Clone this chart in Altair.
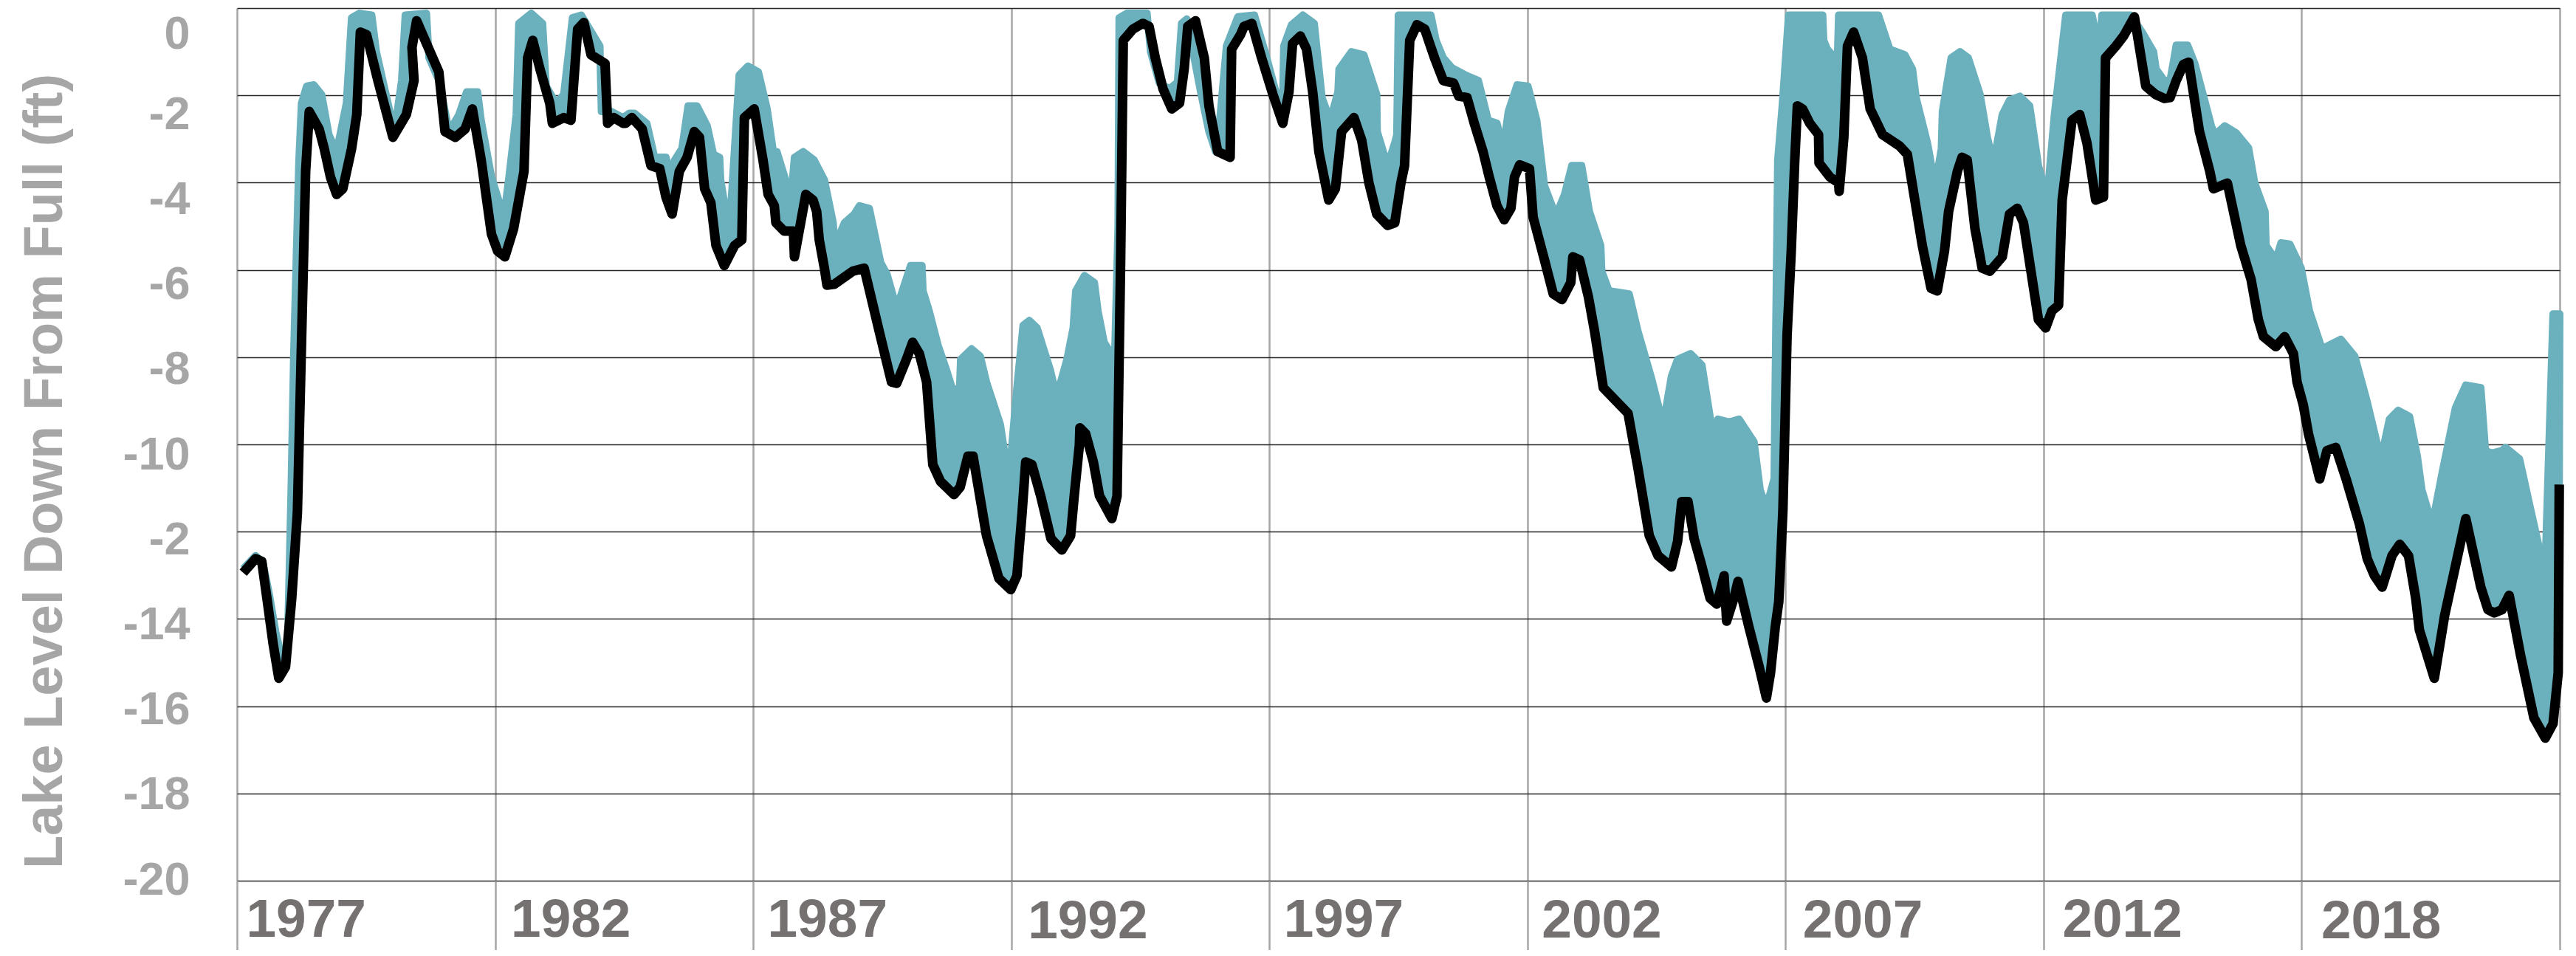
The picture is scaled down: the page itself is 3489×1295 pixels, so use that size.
import altair as alt
import pandas as pd

# ---- teal series (upper edge of band): year, feet below full ----
UP_YEAR = [1977.12, 1977.36, 1977.50, 1977.62, 1977.75, 1977.86, 1977.98, 1978.05, 1978.10, 1978.20,
           1978.25, 1978.35, 1978.49, 1978.64, 1978.78, 1978.93, 1979.12, 1979.22, 1979.37, 1979.61,
           1979.70, 1979.95, 1980.05, 1980.19, 1980.26, 1980.67, 1980.72, 1980.91, 1981.11, 1981.30,
           1981.45, 1981.66, 1981.73, 1981.93, 1982.17, 1982.27, 1982.41, 1982.46, 1982.70, 1982.92,
           1982.99, 1983.18, 1983.33, 1983.50, 1983.67, 1984.03, 1984.06, 1984.25, 1984.48, 1984.60,
           1984.70, 1984.94, 1985.09, 1985.31, 1985.40, 1985.48, 1985.62, 1985.74, 1985.91, 1986.11,
           1986.23, 1986.35, 1986.37, 1986.49, 1986.56, 1986.73, 1986.90, 1987.10, 1987.27, 1987.39,
           1987.46, 1987.63, 1987.75, 1987.80, 1987.97, 1988.18, 1988.38, 1988.55, 1988.57, 1988.64,
           1988.77, 1988.96, 1989.06, 1989.25, 1989.47, 1989.59, 1989.78, 1990.05, 1990.27, 1990.29,
           1990.41, 1990.58, 1990.75, 1990.87, 1991.00, 1991.02, 1991.23, 1991.40, 1991.52, 1991.79,
           1991.89, 1991.99, 1992.11, 1992.23, 1992.35, 1992.50, 1992.76, 1992.88, 1993.08, 1993.20,
           1993.25, 1993.42, 1993.61, 1993.68, 1993.80, 1993.90, 1994.00, 1994.07, 1994.09, 1994.24,
           1994.63, 1994.70, 1994.87, 1995.06, 1995.22, 1995.30, 1995.40, 1995.50, 1995.67, 1995.83,
           1995.96, 1996.05, 1996.17, 1996.39, 1996.71, 1996.95, 1997.14, 1997.26, 1997.28, 1997.43,
           1997.65, 1997.87, 1998.02, 1998.18, 1998.33, 1998.35, 1998.59, 1998.83, 1999.08, 1999.09,
           1999.29, 1999.43, 1999.47, 1999.50, 2000.13, 2000.23, 2000.37, 2000.54, 2000.83, 2001.05,
           2001.24, 2001.41, 2001.53, 2001.63, 2001.80, 2002.01, 2002.18, 2002.33, 2002.55, 2002.72,
           2002.86, 2003.05, 2003.20, 2003.42, 2003.44, 2003.58, 2003.97, 2004.14, 2004.41, 2004.63,
           2004.79, 2004.91, 2005.16, 2005.38, 2005.59, 2005.67, 2005.69, 2005.91, 2006.10, 2006.39,
           2006.51, 2006.63, 2006.78, 2006.85, 2006.94, 2007.06, 2007.72, 2007.74, 2007.81, 2007.96,
           2008.01, 2008.03, 2008.80, 2009.02, 2009.31, 2009.46, 2009.53, 2009.75, 2009.90, 2010.02,
           2010.04, 2010.21, 2010.38, 2010.54, 2010.77, 2010.91, 2011.03, 2011.20, 2011.34, 2011.54,
           2011.73, 2011.90, 2012.07, 2012.21, 2012.43, 2012.94, 2013.08, 2013.13, 2013.69, 2013.91,
           2014.13, 2014.18, 2014.34, 2014.45, 2014.52, 2014.57, 2014.79, 2014.93, 2015.12, 2015.25,
           2015.32, 2015.51, 2015.73, 2015.97, 2016.09, 2016.29, 2016.31, 2016.50, 2016.60, 2016.77,
           2016.99, 2017.15, 2017.37, 2017.42, 2017.64, 2017.76, 2018.03, 2018.27, 2018.48, 2018.56,
           2018.70, 2018.87, 2019.09, 2019.24, 2019.33, 2019.53, 2019.72, 2019.98, 2020.18, 2020.47,
           2020.56, 2020.68, 2020.88, 2020.95, 2021.22, 2021.44, 2021.65, 2021.72, 2021.87, 2022.00]
UP_VAL = [-12.85, -12.55, -12.70, -13.40, -14.30, -14.85, -14.60, -11.00, -7.90, -3.50,
          -2.18, -1.79, -1.76, -1.98, -2.90, -3.29, -2.18, -0.22, -0.12, -0.16,
          -1.00, -2.31, -2.83, -1.66, -0.16, -0.12, -1.14, -1.66, -2.83, -2.44,
          -1.92, -1.92, -2.57, -3.87, -4.79, -3.87, -2.44, -0.35, -0.12, -0.35,
          -1.79, -2.18, -1.98, -0.22, -0.16, -0.87, -2.37, -2.37, -2.51, -2.41,
          -2.41, -2.64, -3.42, -3.42, -3.81, -3.48, -3.22, -2.24, -2.24, -2.70,
          -3.35, -3.42, -3.94, -4.79, -4.72, -1.53, -1.33, -1.46, -2.31, -3.29,
          -3.29, -3.94, -4.14, -3.42, -3.29, -3.48, -3.94, -4.92, -5.31, -5.28,
          -4.92, -4.72, -4.53, -4.59, -5.83, -6.09, -6.88, -5.90, -5.90, -6.48,
          -6.94, -7.72, -8.31, -8.77, -8.70, -8.05, -7.81, -7.98, -8.57, -9.55,
          -10.33, -10.33, -8.70, -7.27, -7.16, -7.33, -8.31, -8.90, -8.05, -7.33,
          -6.48, -6.13, -6.29, -6.94, -7.66, -7.85, -8.18, -5.00, -0.22, -0.12,
          -0.12, -1.00, -1.72, -1.85, -1.70, -0.35, -0.25, -0.87, -1.92, -2.83,
          -3.29, -2.44, -0.87, -0.20, -0.16, -1.14, -1.98, -2.18, -0.87, -0.38,
          -0.16, -0.35, -2.05, -2.57, -1.92, -1.40, -1.00, -1.07, -1.98, -2.83,
          -3.61, -3.09, -2.90, -0.16, -0.16, -0.74, -1.14, -1.37, -1.55, -1.66,
          -2.57, -2.64, -3.22, -2.37, -1.76, -1.79, -2.57, -4.07, -4.76, -4.27,
          -3.61, -3.61, -4.66, -5.44, -6.03, -6.48, -6.55, -7.40, -8.51, -9.55,
          -8.44, -8.05, -7.92, -8.18, -9.75, -9.88, -9.42, -9.49, -9.42, -9.94,
          -11.05, -11.44, -10.79, -3.48, -2.20, -0.16, -0.16, -0.74, -0.94, -1.14,
          -1.00, -0.16, -0.16, -0.94, -1.07, -1.40, -2.05, -3.09, -4.07, -3.22,
          -2.37, -1.14, -1.00, -1.14, -1.98, -2.96, -3.55, -2.44, -2.11, -2.02,
          -2.24, -3.61, -4.33, -2.44, -0.16, -0.16, -1.00, -0.16, -0.16, -0.55,
          -1.00, -1.40, -1.66, -1.66, -1.20, -0.85, -0.85, -1.27, -2.11, -2.70,
          -2.90, -2.70, -2.86, -3.20, -4.01, -4.66, -5.44, -5.77, -5.38, -5.41,
          -5.96, -6.94, -7.72, -7.79, -7.66, -7.59, -7.98, -9.03, -10.07, -10.20,
          -9.42, -9.22, -9.36, -10.27, -11.05, -11.83, -10.66, -9.16, -8.64, -8.70,
          -10.14, -10.20, -10.14, -10.07, -10.33, -11.51, -12.62, -12.75, -7.01, -7.01]

# ---- black series: year, feet below full ----
LO_YEAR = [1977.12, 1977.36, 1977.48, 1977.58, 1977.70, 1977.81, 1977.94, 1978.06, 1978.17, 1978.25,
           1978.33, 1978.40, 1978.59, 1978.69, 1978.81, 1978.93, 1979.05, 1979.22, 1979.32, 1979.39,
           1979.51, 1979.73, 1980.02, 1980.28, 1980.43, 1980.39, 1980.48, 1980.67, 1980.91, 1981.03,
           1981.23, 1981.42, 1981.56, 1981.73, 1981.93, 1982.05, 1982.19, 1982.36, 1982.56, 1982.63,
           1982.73, 1982.87, 1983.06, 1983.11, 1983.33, 1983.47, 1983.60, 1983.72, 1983.86, 1984.13,
           1984.18, 1984.30, 1984.48, 1984.53, 1984.65, 1984.85, 1985.02, 1985.19, 1985.31, 1985.43,
           1985.57, 1985.72, 1985.86, 1985.96, 1986.06, 1986.18, 1986.28, 1986.44, 1986.64, 1986.78,
           1986.83, 1987.02, 1987.19, 1987.29, 1987.41, 1987.44, 1987.60, 1987.78, 1987.80, 1988.02,
           1988.16, 1988.23, 1988.28, 1988.38, 1988.43, 1988.57, 1988.93, 1989.15, 1989.44, 1989.68,
           1989.78, 1989.97, 1990.09, 1990.22, 1990.36, 1990.48, 1990.63, 1990.89, 1991.01, 1991.16,
           1991.26, 1991.52, 1991.76, 1991.99, 1992.11, 1992.21, 1992.28, 1992.40, 1992.57, 1992.77,
           1992.98, 1993.15, 1993.22, 1993.32, 1993.33, 1993.44, 1993.59, 1993.71, 1993.95, 1994.05,
           1994.12, 1994.17, 1994.36, 1994.55, 1994.67, 1994.79, 1994.94, 1995.11, 1995.26, 1995.35,
           1995.42, 1995.57, 1995.74, 1995.83, 1996.00, 1996.24, 1996.27, 1996.44, 1996.51, 1996.66,
           1996.85, 1997.07, 1997.26, 1997.38, 1997.45, 1997.60, 1997.72, 1997.84, 1997.96, 1998.15,
           1998.28, 1998.40, 1998.64, 1998.79, 1998.93, 1999.08, 1999.29, 1999.43, 1999.55, 1999.62,
           1999.72, 1999.86, 2000.01, 2000.20, 2000.37, 2000.57, 2000.67, 2000.83, 2000.97, 2001.14,
           2001.26, 2001.41, 2001.55, 2001.68, 2001.75, 2001.85, 2002.04, 2002.11, 2002.33, 2002.50,
           2002.67, 2002.84, 2002.88, 2003.01, 2003.18, 2003.30, 2003.47, 2003.95, 2004.14, 2004.36,
           2004.53, 2004.79, 2004.91, 2004.99, 2005.11, 2005.23, 2005.37, 2005.54, 2005.67, 2005.81,
           2005.86, 2006.00, 2006.08, 2006.29, 2006.49, 2006.63, 2006.71, 2006.80, 2006.87, 2006.95,
           2007.03, 2007.11, 2007.18, 2007.23, 2007.33, 2007.47, 2007.64, 2007.65, 2007.86, 2008.03,
           2008.04, 2008.13, 2008.20, 2008.32, 2008.49, 2008.64, 2008.88, 2009.21, 2009.36, 2009.65,
           2009.82, 2009.94, 2010.08, 2010.16, 2010.33, 2010.42, 2010.52, 2010.67, 2010.81, 2010.96,
           2011.20, 2011.34, 2011.49, 2011.61, 2011.78, 2011.90, 2012.04, 2012.16, 2012.29, 2012.36,
           2012.55, 2012.70, 2012.84, 2013.01, 2013.16, 2013.20, 2013.40, 2013.55, 2013.76, 2013.98,
           2014.17, 2014.34, 2014.45, 2014.57, 2014.71, 2014.81, 2015.02, 2015.22, 2015.29, 2015.56,
           2015.82, 2016.02, 2016.16, 2016.26, 2016.50, 2016.67, 2016.84, 2016.91, 2017.03, 2017.13,
           2017.35, 2017.49, 2017.66, 2017.86, 2018.12, 2018.27, 2018.41, 2018.56, 2018.75, 2018.90,
           2019.07, 2019.21, 2019.28, 2019.57, 2019.77, 2020.06, 2020.18, 2020.47, 2020.61, 2020.73,
           2020.88, 2021.02, 2021.24, 2021.50, 2021.72, 2021.87, 2021.97, 2021.99]
LO_VAL = [-12.94, -12.62, -12.68, -13.53, -14.57, -15.36, -15.10, -13.53, -11.57, -7.66,
          -3.74, -2.37, -2.77, -3.22, -3.87, -4.27, -4.14, -3.22, -2.44, -0.55,
          -0.61, -1.66, -2.96, -2.44, -1.66, -0.90, -0.29, -0.81, -1.46, -2.83,
          -2.96, -2.77, -2.31, -3.48, -5.18, -5.57, -5.70, -5.05, -3.74, -1.14,
          -0.74, -1.40, -2.18, -2.64, -2.51, -2.57, -0.48, -0.33, -1.07, -1.27,
          -2.64, -2.51, -2.64, -2.64, -2.51, -2.77, -3.61, -3.68, -4.33, -4.72,
          -3.74, -3.42, -2.83, -2.96, -4.14, -4.46, -5.44, -5.90, -5.44, -5.31,
          -2.51, -2.31, -3.48, -4.27, -4.53, -4.92, -5.11, -5.11, -5.70, -4.27,
          -4.40, -4.66, -5.31, -5.96, -6.35, -6.33, -6.03, -5.96, -7.40, -8.57,
          -8.60, -8.05, -7.66, -7.92, -8.57, -10.46, -10.85, -11.15, -10.98, -10.27,
          -10.27, -12.09, -13.07, -13.33, -13.01, -11.57, -10.40, -10.46, -11.18, -12.16,
          -12.42, -12.09, -11.18, -10.01, -9.62, -9.75, -10.40, -11.18, -11.70, -11.18,
          -5.70, -0.74, -0.48, -0.35, -0.42, -1.14, -1.85, -2.31, -2.18, -1.40,
          -0.42, -0.29, -1.14, -2.24, -3.29, -3.42, -0.94, -0.61, -0.42, -0.35,
          -1.14, -1.98, -2.64, -1.92, -0.81, -0.64, -0.94, -1.92, -3.29, -4.40,
          -4.14, -2.83, -2.51, -3.03, -4.01, -4.72, -4.98, -4.92, -4.00, -3.61,
          -0.74, -0.38, -0.48, -1.14, -1.66, -1.72, -2.02, -2.05, -2.64, -3.29,
          -3.87, -4.53, -4.85, -4.59, -3.87, -3.59, -3.68, -4.79, -5.77, -6.55,
          -6.68, -6.29, -5.70, -5.77, -6.61, -7.40, -8.70, -9.29, -10.53, -12.09,
          -12.55, -12.81, -12.22, -11.31, -11.31, -12.16, -12.75, -13.53, -13.66, -13.01,
          -14.05, -13.53, -13.14, -14.18, -15.10, -15.81, -15.23, -14.20, -13.60, -11.50,
          -7.50, -5.60, -3.48, -2.24, -2.31, -2.64, -2.90, -3.55, -3.87, -4.01,
          -4.20, -2.96, -0.87, -0.55, -1.14, -2.31, -2.90, -3.16, -3.35, -5.44,
          -6.42, -6.48, -5.57, -4.66, -3.74, -3.42, -3.48, -5.05, -5.96, -6.03,
          -5.70, -4.72, -4.59, -4.92, -6.22, -7.14, -7.33, -6.94, -6.81, -4.40,
          -2.57, -2.44, -3.09, -4.40, -4.33, -1.14, -0.87, -0.64, -0.20, -1.79,
          -1.98, -2.07, -2.05, -1.66, -1.29, -1.24, -2.83, -3.74, -4.14, -4.01,
          -5.44, -6.22, -7.14, -7.53, -7.76, -7.53, -7.92, -8.57, -9.09, -9.75,
          -10.79, -10.14, -10.07, -10.79, -11.83, -12.62, -13.01, -13.27, -12.55, -12.29,
          -12.55, -13.53, -14.25, -15.36, -13.92, -12.35, -11.70, -13.27, -13.79, -13.86,
          -13.79, -13.46, -14.83, -16.27, -16.73, -16.40, -15.23, -10.92]

# ---- axes ----
X_TICKS = [1977, 1982, 1987, 1992, 1997, 2002, 2007, 2012, 2017, 2022]
X_LABELS = ["1977", "1982", "1987", "1992", "1997", "2002", "2007", "2012", "2018", ""]
Y_TICKS = [0, -2, -4, -6, -8, -10, -12, -14, -16, -18, -20]
Y_LABELS = ["0", "-2", "-4", "-6", "-8", "-10", "-2", "-14", "-16", "-18", "-20"]
Y_TITLE = "Lake Level Down From Full (ft)"

# ---- styles ----
TEAL = "#6ab0bd"
X_LABEL_DX = [12, 21, 19, 22, 19, 19, 23, 25, 26, 0]
X_LABEL_DY = [0, 0, 0, 2, 0, 1, 1, 0, 2, 0]
Y_LABEL_DY = [35, 26, 23, 20, 17, 14, 11, 8, 5, 2, -1]


def js_list(vals):
    return "[" + ",".join(repr(v) for v in vals) + "]"


x_idx = f"indexof({js_list(X_TICKS)}, datum.value)"
y_idx = f"indexof({js_list(Y_TICKS)}, datum.value)"

band_rows = [{"year": x, "value": v, "i": k} for k, (x, v) in enumerate(zip(UP_YEAR, UP_VAL))]
n = len(band_rows)
lo_pairs = list(zip(LO_YEAR, LO_VAL))
for k, (x, v) in enumerate(reversed(lo_pairs)):
    band_rows.append({"year": x, "value": v, "i": n + k})
band = pd.DataFrame(band_rows)
black = pd.DataFrame({"year": LO_YEAR, "value": LO_VAL, "i": list(range(len(LO_YEAR)))})

x_scale = alt.Scale(domain=[1977, 2022], nice=False, zero=False)
y_scale = alt.Scale(domain=[-20, 0], nice=False, zero=False)

x_axis = alt.Axis(
    values=X_TICKS,
    labelExpr=f"{js_list(X_LABELS)}[{x_idx}]",
    labelFont="Liberation Sans",
    labelFontSize=73, labelFontWeight="bold", labelColor="#767171",
    labelAlign="left", labelBaseline="top",
    labelOffset={"expr": f"{js_list(X_LABEL_DX)}[{x_idx}]"},
    labelPadding={"expr": f"-85 + {js_list(X_LABEL_DY)}[{x_idx}]"},
    labelOverlap=False, labelFlush=False, labelBound=False, labelLimit=0,
    ticks=True, tickSize=102, tickColor="#a6a6a6", tickWidth=2.5,
    domain=False, grid=True, gridColor="#a6a6a6", gridWidth=2.5,
    title=None,
)
y_axis = alt.Axis(
    values=Y_TICKS,
    labelExpr=f"{js_list(Y_LABELS)}[{y_idx}]",
    labelFont="Liberation Sans", labelFontSize=63, labelFontWeight="bold",
    labelColor="#a6a6a6", labelAlign="right", labelBaseline="middle",
    labelPadding=64, labelOffset={"expr": f"{js_list(Y_LABEL_DY)}[{y_idx}]"},
    labelOverlap=False, labelFlush=False, labelLimit=0,
    ticks=False, domain=False, grid=True, gridColor="#262626", gridWidth=1.5,
    title=Y_TITLE, titleFont="Liberation Sans", titleFontSize=74, titleFontWeight="bold",
    titleColor="#a6a6a6", titleAngle=270, titleX=-238, titleY=627,
    titleAlign="center", titleBaseline="alphabetic", titleLimit=0,
)

band_layer = alt.Chart(band).mark_line(
    fill=TEAL, stroke=TEAL, strokeWidth=10, strokeJoin="round"
).encode(
    x=alt.X("year:Q", scale=x_scale, axis=x_axis),
    y=alt.Y("value:Q", scale=y_scale, axis=y_axis),
    order="i:Q",
)

black_layer = alt.Chart(black).mark_line(
    color="black", strokeWidth=13, strokeJoin="round", strokeCap="butt"
).encode(
    x=alt.X("year:Q", scale=x_scale, axis=x_axis),
    y=alt.Y("value:Q", scale=y_scale, axis=y_axis),
    order="i:Q",
)

chart = alt.layer(band_layer, black_layer).properties(
    width=3146, height=1182,
    autosize=alt.AutoSizeParams(type="none"),
    padding={"left": 313, "top": 3, "right": 14, "bottom": 94},
    background="white",
).configure_view(strokeWidth=0)

chart.save("out.html", embed_options={"renderer": "svg", "actions": False})
